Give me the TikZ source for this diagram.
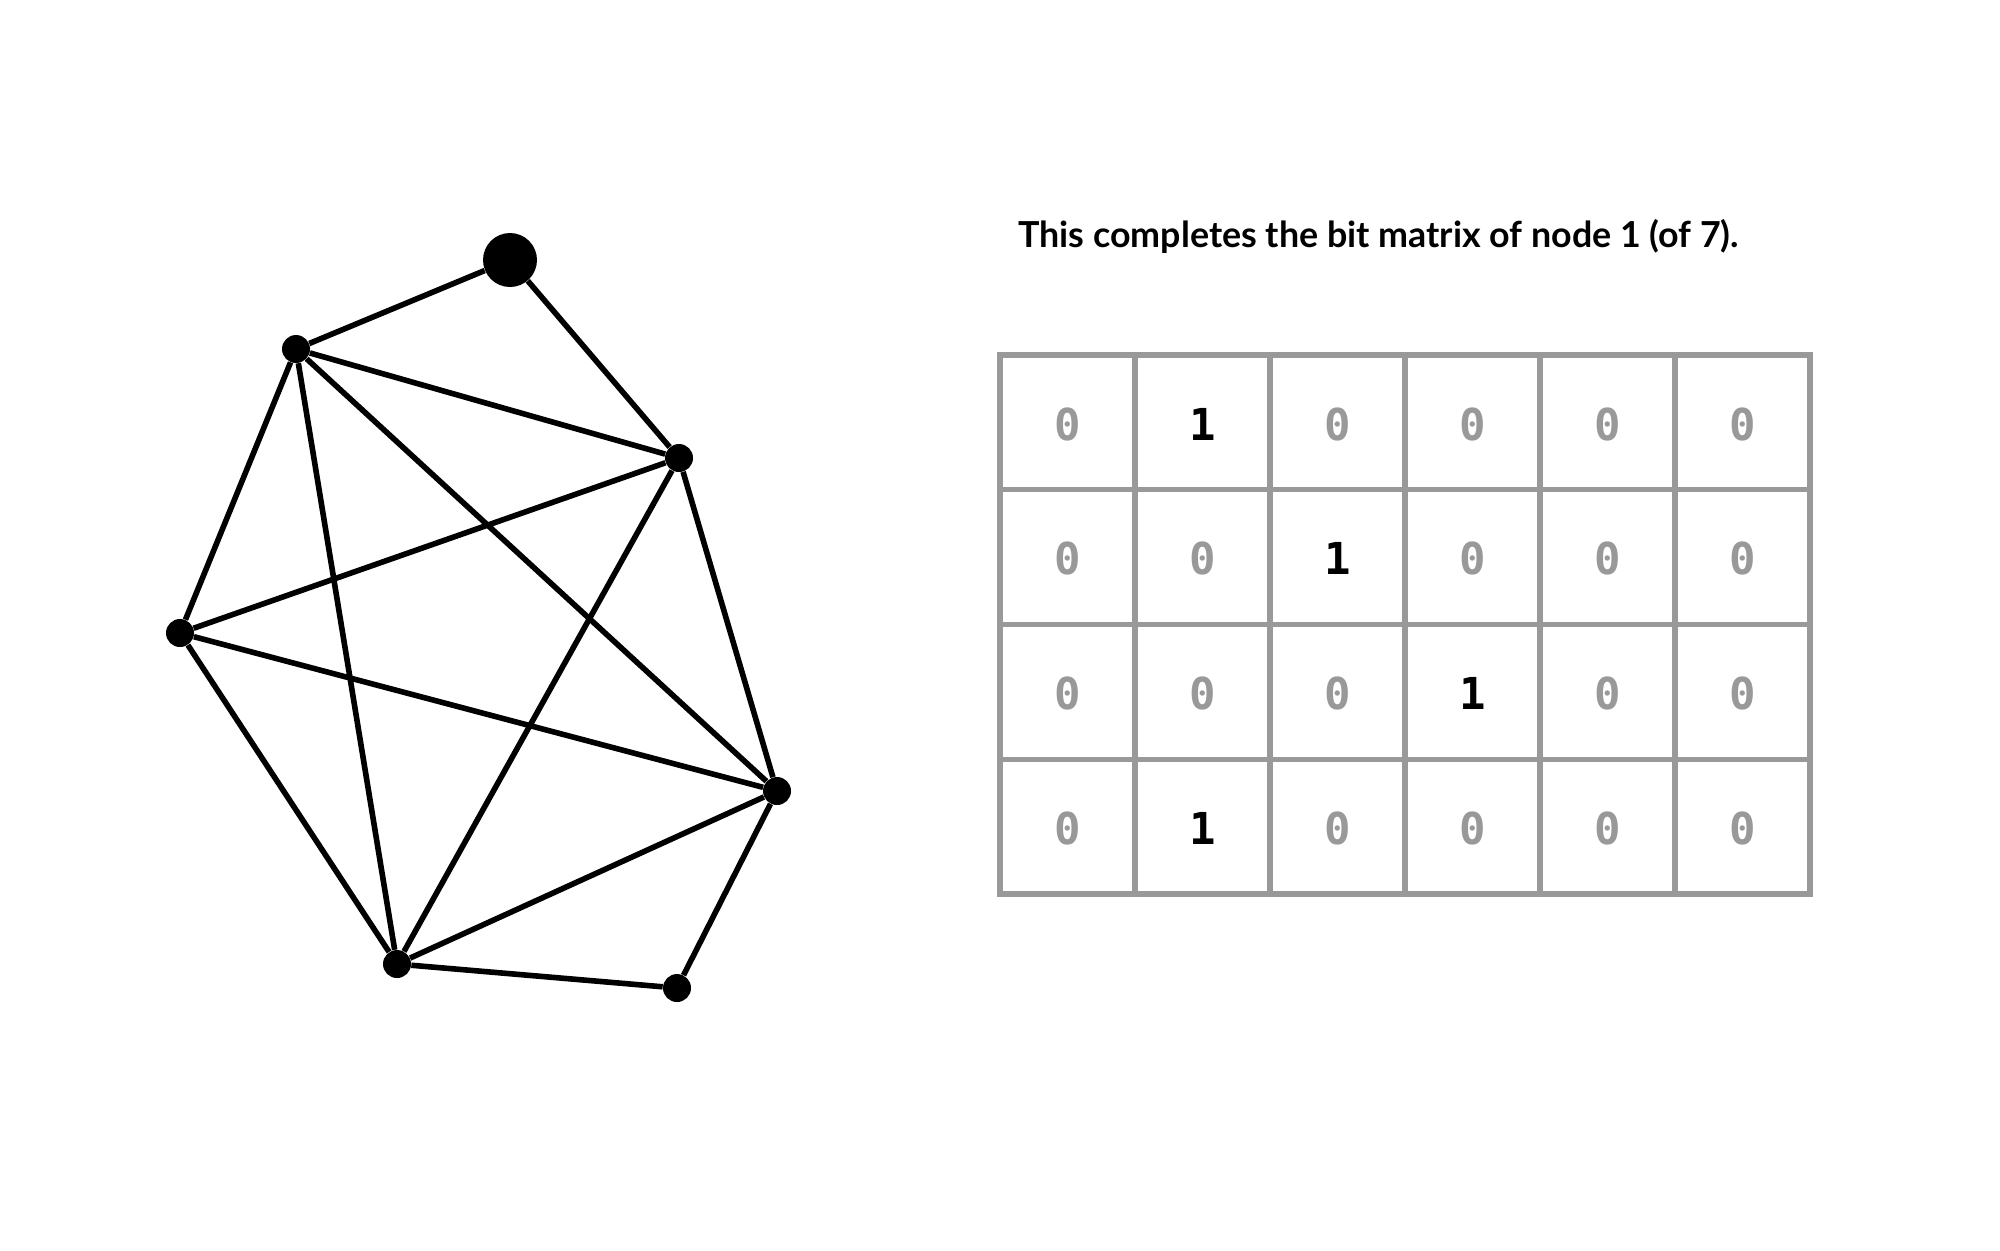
\documentclass[tikz,border=0pt]{standalone}
\usepackage{fontspec}
\setmainfont{Lato}
\newfontfamily\bitfont{DejaVu Sans Mono}
\usepackage{tikz}
\usetikzlibrary{arrows.meta,shapes,chains}

\definecolor{gridgray}{HTML}{999999}

\begin{document}
\begin{tikzpicture}[
x=0.5pt, y=-0.5pt,
    vert/.style={circle, fill=black, inner sep=0pt, minimum size=14pt},
    bigvert/.style={circle, fill=black, inner sep=0pt, minimum size=27pt},
    edge/.style={line width=2.8pt},
    cellline/.style={line width=2.6pt, draw=gridgray},
    zero/.style={text=gridgray, font=\bitfont\bfseries\fontsize{22}{22}\selectfont},
    one/.style={text=black, font=\bitfont\bfseries\fontsize{22}{22}\selectfont}
]
\useasboundingbox (0,0) rectangle (2000,1250);

% 图的七个点
\node[bigvert] (0) at (510,260) {};   % 上
\node[vert] (1) at (296,349) {};      % 左上
\node[vert] (2) at (679,458) {};      % 右上
\node[vert] (3) at (180,633) {};      % 左
\node[vert] (4) at (777,791) {};      % 右下
\node[vert] (5) at (397,964) {};      % 下
\node[vert] (6) at (677,988) {};      % 右下角

% 边
\draw[edge] (0) -- (1);
\draw[edge] (0) -- (2);
\draw[edge] (1) -- (2);
\draw[edge] (1) -- (3);
\draw[edge] (1) -- (4);
\draw[edge] (1) -- (5);
\draw[edge] (2) -- (3);
\draw[edge] (2) -- (4);
\draw[edge] (2) -- (5);
\draw[edge] (3) -- (4);
\draw[edge] (3) -- (5);
\draw[edge] (4) -- (5);
\draw[edge] (4) -- (6);
\draw[edge] (5) -- (6);

% 标题
\node[anchor=base west, inner sep=0pt, font=\bfseries\fontsize{17.9}{20}\selectfont] (title) at (1018,247)
  {This completes the bit matrix of node 1 (of 7).};

% 矩阵格子
\foreach \i in {1,...,5}
  \draw[cellline] (1000+135*\i,355) -- (1000+135*\i,894);
\foreach \j in {1,2,3}
  \draw[cellline] (1000,355+134.75*\j) -- (1810,355+134.75*\j);
\draw[cellline] (1000,355) rectangle (1810,894);

% 矩阵内容
\foreach \row/\bits in {0/{0,1,0,0,0,0}, 1/{0,0,1,0,0,0}, 2/{0,0,0,1,0,0}, 3/{0,1,0,0,0,0}} {
  \foreach \b [count=\col from 0] in \bits {
    \ifnum\b=1
      \node[one] (c-\row-\col) at (1067.5+135*\col,424+134.75*\row) {1};
    \else
      \node[zero] (c-\row-\col) at (1067.5+135*\col,424+134.75*\row) {0};
    \fi
  }
}

\end{tikzpicture}
\end{document}
